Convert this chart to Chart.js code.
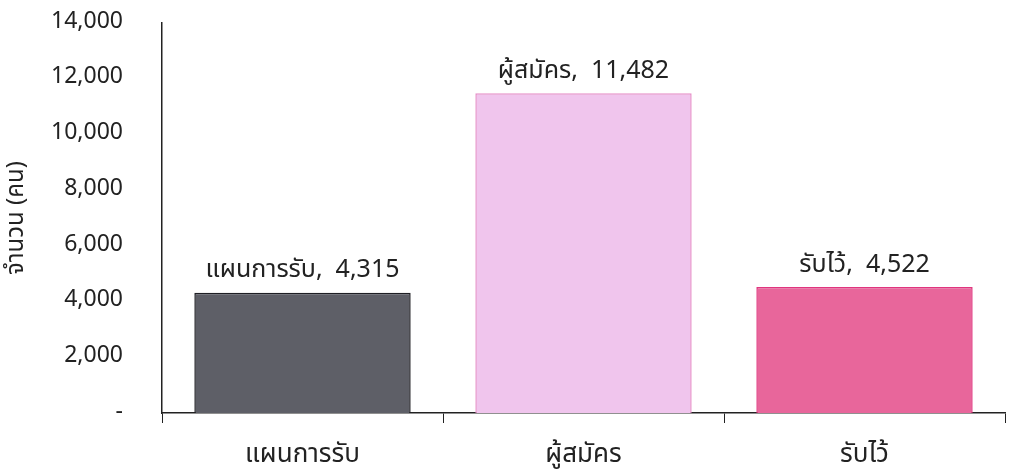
<!DOCTYPE html>
<html>
<head>
<meta charset="utf-8">
<script src="https://cdn.jsdelivr.net/npm/chart.js@4"></script>
<style>
  html, body { margin: 0; padding: 0; background: #fff; }
  #wrap { width: 1009px; height: 472px; }
</style>
</head>
<body>
<div id="wrap"><canvas id="admitChart" width="1009" height="472"></canvas></div>
<script>
// Data
const categories = ['แผนการรับ', 'ผู้สมัคร', 'รับไว้'];
const counts = [4315, 11482, 4522];
const yTicks = [0, 2000, 4000, 6000, 8000, 10000, 12000, 14000];

const fillColors = ['#5e5f67', '#f0c5ed', '#e8669b'];
const borderColors = ['#1f1f24', '#e690c8', '#e0357e'];

const fontFamily = "'Noto Sans Thai', Tahoma, 'DejaVu Sans', sans-serif";

// Draw "label, value" above each bar
const barLabels = {
  id: 'barLabels',
  afterDatasetsDraw(chart) {
    const ctx = chart.ctx;
    const meta = chart.getDatasetMeta(0);
    ctx.save();
    ctx.font = '25px ' + fontFamily;
    ctx.fillStyle = '#222';
    ctx.textAlign = 'center';
    ctx.textBaseline = 'bottom';
    meta.data.forEach((bar, i) => {
      const txt = categories[i] + ',  ' + counts[i].toLocaleString('en-US');
      ctx.fillText(txt, bar.x, bar.y - 8);
    });
    ctx.restore();
  }
};

const ctx = document.getElementById('admitChart').getContext('2d');
new Chart(ctx, {
  type: 'bar',
  data: {
    labels: categories,
    datasets: [{
      data: counts,
      backgroundColor: fillColors,
      borderColor: borderColors,
      borderWidth: 1.5,
      barPercentage: 0.77,
      categoryPercentage: 1
    }]
  },
  options: {
    responsive: false,
    animation: false,
    layout: { padding: { top: 0, right: 4, left: 0, bottom: 0 } },
    plugins: {
      legend: { display: false },
      tooltip: { enabled: false }
    },
    scales: {
      x: {
        afterFit(axis) {
          axis.height = 59;
        },
        grid: {
          display: true,
          offset: true,
          drawOnChartArea: false,
          drawTicks: true,
          tickLength: 10,
          color: '#222'
        },
        border: { display: true, color: '#222', width: 1.5 },
        ticks: {
          color: '#222',
          font: { size: 26, family: fontFamily },
          padding: 18
        }
      },
      y: {
        min: 0,
        max: 14000,
        afterBuildTicks(axis) {
          axis.ticks = yTicks.map(v => ({ value: v }));
        },
        afterFit(axis) {
          axis.paddingTop = 23;
          axis.paddingBottom = 0;
          axis.width = 162;
        },
        grid: { display: false },
        border: { display: true, color: '#222', width: 1.5 },
        ticks: {
          color: '#222',
          padding: 31,
          font: { size: 23, family: fontFamily },
          callback: v => v === 0 ? '-' : v.toLocaleString('en-US')
        },
        title: {
          display: true,
          text: 'จำนวน (คน)',
          color: '#222',
          font: { size: 24, family: fontFamily },
          padding: { top: 4, bottom: 0 }
        }
      }
    }
  },
  plugins: [barLabels]
});
</script>
</body>
</html>
